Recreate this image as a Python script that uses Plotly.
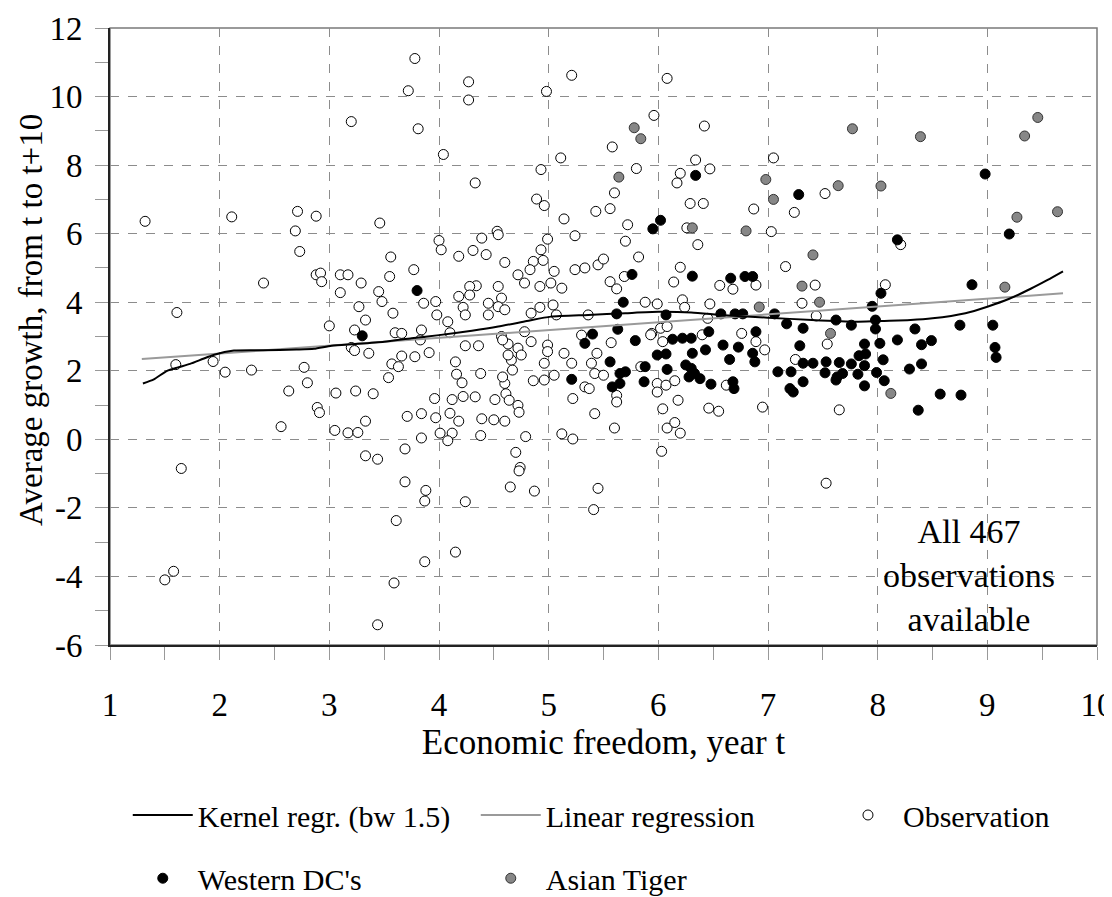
import plotly.graph_objects as go

# ---------------- data ----------------
obs_x = [1.32, 2.11, 2.71, 2.88, 2.69, 2.73, 2.88, 2.92, 2.93, 3.10, 3.17, 2.40, 3.10, 1.61, 3.00, 3.20,
         1.60, 1.94, 2.05, 2.29, 2.77, 2.80, 2.63, 3.06, 2.89, 2.91, 2.56, 3.05, 3.17, 3.26, 1.65, 1.58,
         1.50, 3.20, 3.23, 3.24, 3.23,
         3.78, 3.72, 4.27, 4.27, 3.81, 4.98, 5.21, 4.04, 5.11, 4.93, 4.33, 4.89, 4.96, 5.43, 5.14, 3.46,
         4.53, 4.54, 5.24, 4.39, 4.99, 4.00, 4.02, 4.93, 4.18, 4.31, 4.43, 3.56, 4.60, 4.86, 4.95, 3.77,
         3.55, 3.29, 4.72, 4.83, 5.05, 5.24, 5.33, 5.45, 3.45, 4.34, 4.28, 4.54, 4.78, 5.02, 5.12, 4.92,
         4.18, 4.28, 4.57, 3.27, 3.48, 3.86, 3.97, 4.45, 4.54, 4.60, 4.22, 4.92, 5.04, 3.33, 3.58, 3.98,
         4.08, 4.24, 4.45, 4.84, 5.07, 3.60, 3.66, 3.84, 4.10, 4.57, 4.78, 5.30, 5.36,
         3.83, 3.36, 4.24, 4.36, 3.66, 3.78, 3.91, 3.57, 3.63, 3.54, 4.15, 4.16, 4.21, 4.38, 3.40, 3.96,
         4.12, 4.22, 4.33, 4.51, 3.33, 3.71, 3.84, 3.97, 4.10, 4.18, 4.39, 4.50, 4.60, 3.84, 4.01, 4.12,
         4.08, 4.38, 4.79, 3.69, 3.33, 3.44, 4.70, 4.74, 4.73, 4.65, 4.87, 3.69, 3.88, 3.87, 4.24, 3.61,
         4.15, 3.87, 3.59, 3.44, 5.12, 5.22, 4.63, 4.58, 4.72, 4.75, 4.66, 4.63, 4.84, 4.99, 4.99, 4.96,
         5.14, 5.21, 5.39, 5.42, 4.86, 4.96, 5.05, 4.60, 4.61, 4.64, 4.72, 4.73, 5.22, 5.33, 5.37, 5.42,
         4.67, 4.58,
         6.08, 5.96, 6.42, 5.58, 5.80, 6.34, 6.47, 6.20, 6.17, 7.05, 5.60, 5.56, 6.29, 6.41, 6.87, 7.52,
         7.24, 5.72, 6.26, 7.03, 5.70, 6.36, 5.50, 5.82, 6.20, 7.16, 5.56, 5.69, 5.62, 6.14, 6.56, 6.68,
         6.89, 7.43, 5.88, 5.99, 6.22, 6.24, 6.47, 7.31, 6.45, 7.44, 6.02, 6.08, 5.94, 6.76,
         5.57, 5.93, 6.04, 6.40, 6.89, 6.97, 7.25, 7.54, 5.44, 5.84, 5.50, 5.99, 6.07, 6.15, 5.99, 5.62,
         5.62, 6.62, 6.18, 6.04, 6.46, 6.55, 6.95, 7.65, 5.60, 6.08, 6.15, 6.20, 6.03, 5.45, 5.41, 7.53,
         8.07, 8.21]
obs_y = [6.36, 6.49, 6.65, 6.51, 6.08, 5.48, 4.80, 4.85, 4.60, 4.80, 4.80, 4.56, 4.28, 3.70, 3.31, 9.27,
         2.18, 2.27, 1.96, 2.02, 2.10, 1.65, 1.41, 1.35, 0.93, 0.78, 0.37, 0.26, 0.19, 0.20, -0.85, -3.85,
         -4.10, 2.68, 2.59, 1.41, 3.19,
         11.11, 10.17, 10.43, 9.90, 9.06, 10.15, 10.62, 8.31, 8.21, 7.87, 7.48, 7.01, 6.82, 6.65, 6.43, 6.31,
         6.07, 5.97, 5.94, 5.87, 5.84, 5.80, 5.53, 5.53, 5.34, 5.51, 5.39, 5.32, 5.16, 5.19, 5.22, 4.95,
         4.75, 4.56, 4.80, 4.95, 4.90, 4.95, 5.00, 5.09, 4.31, 4.48, 4.46, 4.46, 4.56, 4.56, 4.41, 4.46,
         4.17, 4.21, 4.12, 3.87, 4.02, 3.97, 4.02, 3.97, 3.87, 3.78, 3.85, 3.85, 3.92, 3.48, 3.68, 3.63,
         3.43, 3.63, 3.63, 3.68, 3.63, 3.11, 3.09, 3.19, 3.11, 3.00, 3.14, 3.04, 3.63,
         2.90, 2.51, 2.73, 2.73, 2.43, 2.41, 2.53, 2.20, 2.12, 1.80, 2.26, 1.90, 1.65, 1.92, 1.33, 1.19,
         1.16, 1.25, 1.24, 1.16, 0.53, 0.67, 0.75, 0.63, 0.76, 0.53, 0.60, 0.57, 0.53, 0.04, 0.18, 0.18,
         -0.04, 0.11, 0.08, -0.28, -0.48, -0.58, -0.38, -0.82, -0.92, -1.39, -1.51, -1.24, -1.49, -1.80, -1.82, -2.37,
         -3.29, -3.57, -4.19, -5.41, 0.16, 0.01, 2.78, 2.90, 2.66, 2.46, 2.31, 2.46, 2.85, 2.75, 2.56, 2.22,
         2.51, 2.22, 2.22, 1.92, 1.71, 1.73, 1.87, 1.63, 1.33, 1.14, 0.99, 0.79, 1.19, 1.53, 1.48, 0.75,
         2.02, 1.82,
         10.53, 9.45, 9.14, 8.53, 7.90, 8.15, 7.89, 7.76, 7.48, 8.21, 7.19, 6.73, 6.88, 6.88, 6.72, 7.17,
         6.62, 6.26, 6.17, 6.06, 5.78, 5.68, 5.26, 5.32, 5.02, 5.04, 4.60, 4.75, 4.39, 4.59, 4.49, 4.38,
         4.50, 4.50, 4.00, 3.95, 4.07, 3.85, 3.95, 3.97, 3.53, 3.60, 3.24, 3.29, 3.09, 3.09,
         2.82, 3.05, 2.85, 3.05, 2.85, 2.61, 2.33, 2.78, 2.51, 2.12, 1.87, 1.63, 1.58, 1.71, 1.38, 1.28,
         1.09, 1.58, 1.14, 0.89, 0.91, 0.82, 0.94, 0.86, 0.33, 0.33, 0.49, 0.18, -0.35, -1.43, -2.05, -1.28,
         4.51, 5.68]

wdc_x = [3.80, 3.30, 5.40, 5.33, 5.21,
         6.34, 7.28, 6.02, 5.95, 5.76, 6.31, 6.66, 6.79, 6.86, 5.68, 5.62, 6.07, 6.57, 6.70, 6.77, 7.06,
         7.17, 7.32, 7.62, 5.63, 6.46, 6.89,
         5.79, 6.13, 6.22, 6.30, 6.59, 6.73, 6.86, 6.88, 6.65, 6.43, 6.31, 5.99, 6.07, 5.56, 5.70, 5.65,
         5.88, 6.08, 6.25, 6.30, 6.33, 6.38, 6.28, 5.87, 6.48, 6.68, 6.69, 5.58, 5.65, 7.09, 7.21, 7.29,
         7.32, 7.41, 7.53, 7.65, 7.52, 7.63, 7.32, 7.20, 7.23,
         8.98, 9.20, 8.18, 8.86, 8.03, 7.95, 7.98, 7.98, 7.76, 8.34, 8.75, 9.05,
         7.88, 8.02, 8.18, 8.40, 8.49, 9.07, 9.08, 7.83, 7.89, 8.05, 7.76, 7.88, 7.68, 7.82, 7.99, 8.29,
         8.40, 7.62, 7.88, 8.06, 8.57, 8.76, 8.37]
wdc_y = [4.34, 3.02, 3.07, 2.80, 1.75,
         7.70, 7.14, 6.39, 6.14, 4.81, 4.76, 4.70, 4.75, 4.75, 4.00, 3.66, 3.63, 3.66, 3.66, 3.66, 3.66,
         3.37, 3.24, 3.48, 3.21, 3.14, 3.14,
         2.88, 2.92, 2.95, 2.95, 2.75, 2.69, 2.51, 2.26, 2.33, 2.61, 2.51, 2.46, 2.49, 2.26, 1.97, 1.92,
         2.12, 2.04, 2.17, 2.07, 1.92, 1.77, 1.82, 1.68, 1.61, 1.68, 1.48, 1.53, 1.63, 1.97, 1.97, 2.73,
         2.22, 2.22, 2.26, 2.24, 1.94, 1.82, 1.68, 1.48, 1.38,
         7.74, 5.99, 5.82, 4.51, 4.26, 3.88, 3.48, 3.22, 3.33, 3.22, 3.33, 3.33,
         2.78, 2.80, 2.90, 2.76, 2.88, 2.68, 2.39, 2.44, 2.49, 2.32, 2.20, 2.15, 1.92, 1.90, 1.95, 2.05,
         2.20, 1.73, 1.56, 1.71, 1.32, 1.29, 0.85]

tiger_x = [5.78, 5.84, 5.64, 6.98, 7.05, 7.64, 6.31, 6.80, 7.41, 7.31, 7.47, 6.92, 7.57,
           7.77, 8.39, 9.46, 9.34, 8.03, 9.27, 9.64, 9.16, 8.12]
tiger_y = [9.09, 8.77, 7.65, 7.58, 7.00, 7.40, 6.17, 6.08, 5.38, 4.47, 4.00, 3.86, 3.09,
           9.06, 8.83, 9.39, 8.85, 7.39, 6.48, 6.64, 4.44, 1.34]

kernel_x = [1.30, 1.40, 1.52, 1.62, 1.73, 1.85, 1.95, 2.13, 2.40, 2.70, 2.86, 3.02, 3.23, 3.50,
            3.75, 4.00, 4.30, 4.54, 4.80, 5.02, 5.36, 5.70, 6.00, 6.30, 6.60, 7.00, 7.40, 7.80,
            8.00, 8.30, 8.50, 8.80, 9.00, 9.20, 9.40, 9.55, 9.69]
kernel_y = [1.63, 1.75, 2.00, 2.10, 2.20, 2.35, 2.47, 2.59, 2.60, 2.62, 2.64, 2.73, 2.78, 2.85,
            2.95, 3.04, 3.17, 3.29, 3.45, 3.58, 3.63, 3.68, 3.72, 3.70, 3.62, 3.55, 3.48, 3.43,
            3.45, 3.48, 3.53, 3.68, 3.87, 4.10, 4.40, 4.65, 4.90]

linreg_x = [1.29, 9.69]
linreg_y = [2.34, 4.26]

x_ticks = [1, 2, 3, 4, 5, 6, 7, 8, 9, 10]
y_ticks = [-6, -4, -2, 0, 2, 4, 6, 8, 10, 12]

FONT = "Liberation Serif"

fig = go.Figure()

fig.add_trace(go.Scatter(
    x=obs_x, y=obs_y, mode="markers", name="Observation",
    marker=dict(symbol="circle", size=10, color="white", line=dict(color="black", width=1)),
    legend="legend3"))
fig.add_trace(go.Scatter(
    x=wdc_x, y=wdc_y, mode="markers", name="Western DC's",
    marker=dict(symbol="circle", size=10, color="black", line=dict(color="black", width=1)),
    legend="legend2", legendrank=1))
fig.add_trace(go.Scatter(
    x=tiger_x, y=tiger_y, mode="markers", name="Asian Tiger",
    marker=dict(symbol="circle", size=10, color="#878787", line=dict(color="#333333", width=1)),
    legend="legend2", legendrank=2))
fig.add_trace(go.Scatter(
    x=linreg_x, y=linreg_y, mode="lines", name="Linear regression",
    line=dict(color="#9a9a9a", width=2), legend="legend", legendrank=2))
fig.add_trace(go.Scatter(
    x=kernel_x, y=kernel_y, mode="lines", name="Kernel regr. (bw 1.5)",
    line=dict(color="black", width=2, shape="spline", smoothing=0.6), legend="legend", legendrank=1))

fig.add_shape(type="rect", xref="paper", yref="paper", x0=0, x1=1, y0=0, y1=1,
              line=dict(color="#7a7a7a", width=1.5), layer="below")

fig.add_annotation(text="All 467<br>observations<br>available", xref="paper", yref="paper",
                   x=0.870, y=0.113, xanchor="center", yanchor="middle", showarrow=False,
                   font=dict(family=FONT, size=34, color="black"))

# y-axis title (placed as a rotated annotation to match the reference position)
fig.add_annotation(text="Average growth, from t to t+10", xref="paper", yref="paper",
                   x=-0.080, y=0.527, xanchor="center", yanchor="middle", textangle=-90,
                   showarrow=False, font=dict(family=FONT, size=33, color="black"))

legend_common = dict(orientation="h", xanchor="left", yanchor="middle", itemwidth=60,
                     font=dict(family=FONT, size=30, color="black"),
                     bgcolor="rgba(0,0,0,0)", traceorder="normal")

# the page body adds an 8 px offset, so margins are shifted by 8 px
fig.update_layout(
    width=1112, height=897,
    margin=dict(l=102, r=23, t=20, b=260, autoexpand=False),
    paper_bgcolor="white", plot_bgcolor="white",
    font=dict(family=FONT, color="black"),
    xaxis=dict(range=[1, 10], tickvals=x_ticks, ticktext=[str(v) for v in x_ticks],
               showgrid=True, gridcolor="#8c8c8c", griddash="dash", gridwidth=1,
               zeroline=False, showline=True, linecolor="#222222", linewidth=2,
               ticks="outside", ticklen=13, tickcolor="#999999", tickwidth=1,
               minor=dict(dtick=0.5, ticks="outside", ticklen=13, tickcolor="#999999", showgrid=False),
               tickfont=dict(family=FONT, size=33), ticklabelstandoff=16,
               ticklabeloverflow="allow", automargin=False,
               title=dict(text="Economic freedom, year t", font=dict(family=FONT, size=35), standoff=2)),
    yaxis=dict(range=[-6, 12], tickvals=y_ticks, ticktext=[str(v) for v in y_ticks],
               showgrid=True, gridcolor="#8c8c8c", griddash="dash", gridwidth=1,
               zeroline=False, showline=True, linecolor="#222222", linewidth=2,
               ticks="outside", ticklen=13, tickcolor="#999999", tickwidth=1,
               minor=dict(dtick=1, ticks="outside", ticklen=13, tickcolor="#999999", showgrid=False),
               tickfont=dict(family=FONT, size=33), ticklabelstandoff=6, automargin=False),
    legend=dict(x=0.018, y=-0.2755, entrywidth=273, entrywidthmode="pixels", **legend_common),
    legend3=dict(x=0.7325, y=-0.2755, **legend_common),
    legend2=dict(x=0.018, y=-0.378, entrywidth=273, entrywidthmode="pixels", **legend_common),
    showlegend=True,
)

fig.write_html("out.html")
